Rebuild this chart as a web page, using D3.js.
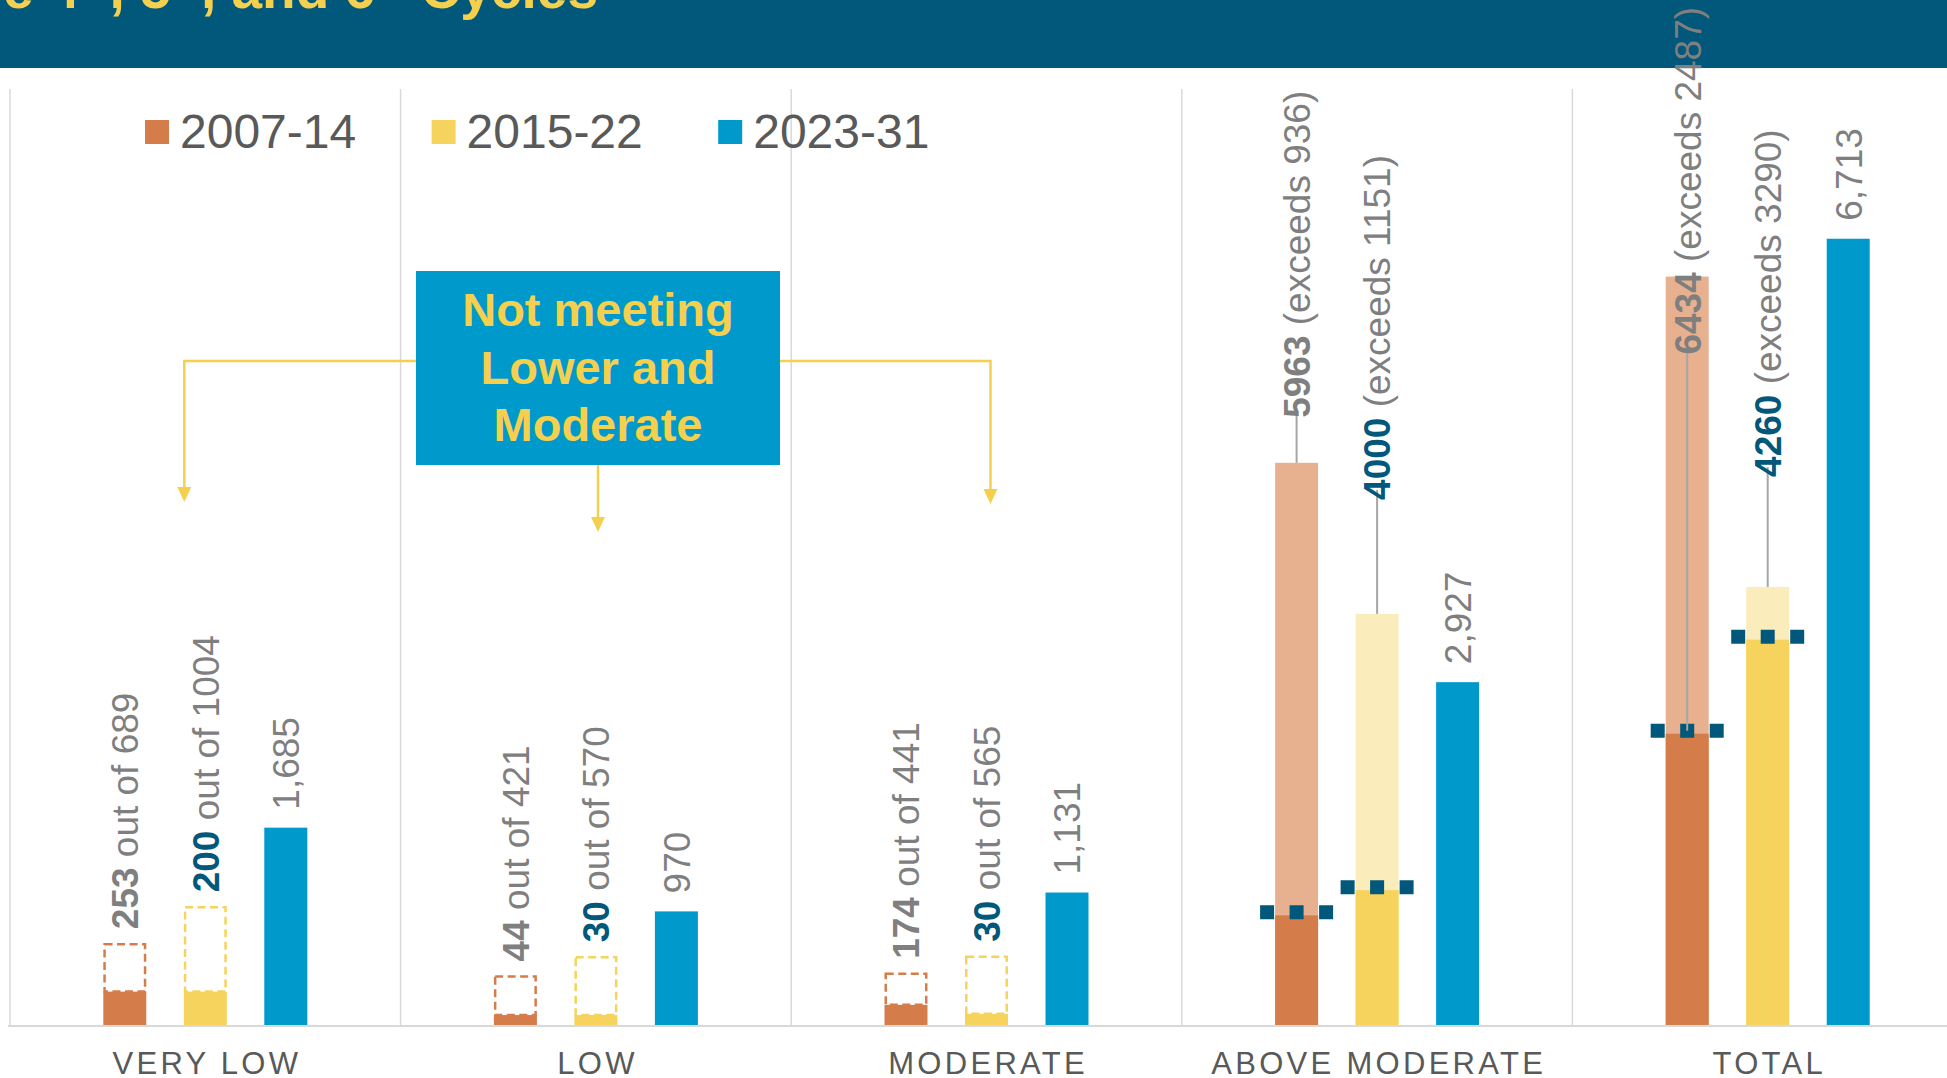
<!DOCTYPE html>
<html>
<head>
<meta charset="utf-8">
<script src="https://d3js.org/d3.v7.min.js"></script>
<style>
body { margin: 0; background: #fff; overflow: hidden; }
svg { display: block; font-family: "Liberation Sans", Arial, sans-serif; }
text { white-space: pre; }
</style>
</head>
<body>
<svg id="chart" width="1947" height="1078"></svg>
<script>
// income categories and RHNA cycles
const categories = ["VERY LOW", "LOW", "MODERATE", "ABOVE MODERATE", "TOTAL"];
const cycles = ["2007-14", "2015-22", "2023-31"];

// 2007-14 cycle
const solid0714 = [285, 85, 172, 936, 2487];
const outline0714 = [690, 415, 437, null, null];
const over0714 = [null, null, null, 4800, 6390];
const goal0714 = [null, null, null, 936, 2487];

// 2015-22 cycle
const solid1522 = [285, 85, 95, 1151, 3290];
const outline1522 = [1005, 578, 583, null, null];
const over1522 = [null, null, null, 3510, 3740];
const goal1522 = [null, null, null, 1151, 3290];

// 2023-31 cycle
const rhna2331 = [1685, 970, 1131, 2927, 6713];

// label texts
const bold0714 = ["253", "44", "174", "5963", "6434"];
const rest0714 = [" out of 689", " out of 421", " out of 441", " (exceeds 936)", " (exceeds 2487)"];
const bold1522 = ["200", "30", "30", "4000", "4260"];
const rest1522 = [" out of 1004", " out of 570", " out of 565", " (exceeds 1151)", " (exceeds 3290)"];
const label2331 = ["1,685", "970", "1,131", "2,927", "6,713"];

const W = 1947, H = 1078;
const baseY = 1025, topY = 88;

const fillCol = { "2007-14": "#D57D4A", "2015-22": "#F6D35C", "2023-31": "#0099CC" };
const lightCol = { "2007-14": "#E7B190", "2015-22": "#FAECBB" };
const darkBlue = "#01587A";
const labelGray = "#7F7F7F";
const noteYellow = "#F5D04E";

const svg = d3.select("#chart");

const x0 = d3.scaleBand()
    .domain(categories)
    .range([10, 10 + 390.6 * categories.length]);

const x1 = d3.scaleBand()
    .domain(cycles)
    .range([-120.75, 120.75])
    .paddingInner(0.466)
    .paddingOuter(0.233);

const y = d3.scaleLinear().domain([0, 8000]).range([baseY, topY]);

function barX(cat, cyc) {
    return x0(cat) + x0.bandwidth() / 2 + x1(cyc);
}
function barC(cat, cyc) {
    return barX(cat, cyc) + x1.bandwidth() / 2;
}

// header band
svg.append("rect").attr("x", 0).attr("y", 0).attr("width", W).attr("height", 68).attr("fill", darkBlue);

var title = svg.append("text")
    .attr("x", 598).attr("y", 8)
    .attr("text-anchor", "end")
    .attr("font-size", 55).attr("font-weight", "bold")
    .attr("fill", noteYellow);
title.append("tspan").text("Share of RHNA Met in the 4");
title.append("tspan").attr("baseline-shift", "super").attr("font-size", 32).text("th");
title.append("tspan").text(", 5");
title.append("tspan").attr("baseline-shift", "super").attr("font-size", 32).text("th");
title.append("tspan").text(", and 6");
title.append("tspan").attr("baseline-shift", "super").attr("font-size", 32).text("th");
title.append("tspan").text(" Cycles");

// separators between categories
svg.selectAll("line.sep")
    .data(categories)
    .enter()
    .append("line")
    .attr("class", "sep")
    .attr("x1", d => x0(d)).attr("x2", d => x0(d))
    .attr("y1", 89).attr("y2", baseY)
    .attr("stroke", "#D9D9D9").attr("stroke-width", 1.5);

// baseline
svg.append("line")
    .attr("x1", 8).attr("x2", W)
    .attr("y1", baseY + 1).attr("y2", baseY + 1)
    .attr("stroke", "#D9D9D9").attr("stroke-width", 2);

// category labels
svg.selectAll("text.cat")
    .data(categories)
    .enter()
    .append("text")
    .attr("class", "cat")
    .attr("x", d => x0(d) + x0.bandwidth() / 2 + 1.6)
    .attr("y", 1074)
    .attr("text-anchor", "middle")
    .attr("font-size", 31)
    .attr("letter-spacing", 3.3)
    .attr("fill", "#595959")
    .text(d => d);

// legend
var legend = svg.selectAll("g.legend")
    .data(cycles)
    .enter()
    .append("g")
    .attr("class", "legend")
    .attr("transform", (d, i) => "translate(" + (145 + i * 286.6) + ",0)");
legend.append("rect")
    .attr("x", 0).attr("y", 120).attr("width", 24).attr("height", 24)
    .attr("fill", d => fillCol[d]);
legend.append("text")
    .attr("x", 35).attr("y", 148)
    .attr("font-size", 48)
    .attr("fill", "#595959")
    .text(d => d);

// annotation box with arrows
const boxL = 416, boxR = 780, boxT = 271, boxB = 465, armY = 361;
const boxMid = (boxL + boxR) / 2;
const arrowL = x0("VERY LOW") + x0.bandwidth() / 2 - 21;
const arrowM = boxMid;
const arrowR = x0("MODERATE") + x0.bandwidth() / 2 + 4;

var note = svg.append("g");
function arrowPath(x, yTip) {
    return "M" + (x - 7) + "," + (yTip - 15) + "L" + (x + 7) + "," + (yTip - 15) + "L" + x + "," + yTip + "Z";
}
note.append("path")
    .attr("d", "M" + boxL + "," + armY + "H" + arrowL + "V" + 488)
    .attr("fill", "none").attr("stroke", noteYellow).attr("stroke-width", 2.5);
note.append("path").attr("d", arrowPath(arrowL, 502)).attr("fill", noteYellow);
note.append("path")
    .attr("d", "M" + boxR + "," + armY + "H" + arrowR + "V" + 490)
    .attr("fill", "none").attr("stroke", noteYellow).attr("stroke-width", 2.5);
note.append("path").attr("d", arrowPath(arrowR, 504)).attr("fill", noteYellow);
note.append("path")
    .attr("d", "M" + arrowM + "," + boxB + "V" + 518)
    .attr("fill", "none").attr("stroke", noteYellow).attr("stroke-width", 2.5);
note.append("path").attr("d", arrowPath(arrowM, 532)).attr("fill", noteYellow);

note.append("rect")
    .attr("x", boxL).attr("y", boxT)
    .attr("width", boxR - boxL).attr("height", boxB - boxT)
    .attr("fill", "#0099CC");
["Not meeting", "Lower and", "Moderate"].forEach(function (line, i) {
    note.append("text")
        .attr("x", boxMid).attr("y", 326 + i * 57.5)
        .attr("text-anchor", "middle")
        .attr("font-size", 47).attr("font-weight", "bold")
        .attr("fill", noteYellow)
        .text(line);
});

// build rows for the two older cycles
function rows(cyc, solid, outline, over, goal, bold, rest, boldCol) {
    return categories.map(function (cat, i) {
        return {
            cat: cat, cyc: cyc, solid: solid[i], outline: outline[i],
            over: over[i], goal: goal[i], bold: bold[i], rest: rest[i], boldCol: boldCol
        };
    });
}
var older = rows("2007-14", solid0714, outline0714, over0714, goal0714, bold0714, rest0714, labelGray)
    .concat(rows("2015-22", solid1522, outline1522, over1522, goal1522, bold1522, rest1522, darkBlue));
var newest = categories.map((cat, i) => ({ cat: cat, cyc: "2023-31", value: rhna2331[i], label: label2331[i] }));

const bw = x1.bandwidth();

// light bars (permits above goal)
svg.selectAll("rect.over")
    .data(older.filter(d => d.over != null))
    .enter()
    .append("rect")
    .attr("class", "over")
    .attr("x", d => barX(d.cat, d.cyc))
    .attr("y", d => y(d.over))
    .attr("width", bw)
    .attr("height", d => y(0) - y(d.over))
    .attr("fill", d => lightCol[d.cyc]);

// dashed outlines (goal not met)
svg.selectAll("rect.outline")
    .data(older.filter(d => d.outline != null))
    .enter()
    .append("rect")
    .attr("class", "outline")
    .attr("x", d => barX(d.cat, d.cyc) + 1.25)
    .attr("y", d => y(d.outline))
    .attr("width", bw - 2.5)
    .attr("height", d => y(d.solid) - y(d.outline))
    .attr("fill", "none")
    .attr("stroke", d => fillCol[d.cyc])
    .attr("stroke-width", 2.5)
    .attr("stroke-dasharray", "8 4.5");

// solid bars
svg.selectAll("rect.solid")
    .data(older)
    .enter()
    .append("rect")
    .attr("class", "solid")
    .attr("x", d => barX(d.cat, d.cyc))
    .attr("y", d => y(d.solid))
    .attr("width", bw)
    .attr("height", d => y(0) - y(d.solid))
    .attr("fill", d => fillCol[d.cyc]);

svg.selectAll("rect.newest")
    .data(newest)
    .enter()
    .append("rect")
    .attr("class", "newest")
    .attr("x", d => barX(d.cat, d.cyc))
    .attr("y", d => y(d.value))
    .attr("width", bw)
    .attr("height", d => y(0) - y(d.value))
    .attr("fill", fillCol["2023-31"]);

// goal markers
svg.selectAll("line.goal")
    .data(older.filter(d => d.goal != null))
    .enter()
    .append("line")
    .attr("class", "goal")
    .attr("x1", d => barC(d.cat, d.cyc) - 36.5)
    .attr("x2", d => barC(d.cat, d.cyc) + 36.5)
    .attr("y1", d => y(d.goal) - 3).attr("y2", d => y(d.goal) - 3)
    .attr("stroke", darkBlue)
    .attr("stroke-width", 14)
    .attr("stroke-dasharray", "14 15.5");

// label placement: pixels above the top of the light bar (negative: below, leader from goal)
const leaderLift = {
    "ABOVE MODERATE|2007-14": 45,
    "ABOVE MODERATE|2015-22": 114,
    "TOTAL|2007-14": -78,
    "TOTAL|2015-22": 110
};
const labelGap = 15;

older.forEach(function (d) {
    var key = d.cat + "|" + d.cyc;
    var cx = barC(d.cat, d.cyc);
    var bottom;
    if (leaderLift[key] != null) {
        var lift = leaderLift[key];
        var topOfBar = y(d.over);
        bottom = topOfBar - lift;
        var from = lift < 0 ? y(d.goal) - 3 : topOfBar;
        svg.append("line")
            .attr("x1", cx).attr("x2", cx)
            .attr("y1", from).attr("y2", bottom - 10)
            .attr("stroke", "#A6A6A6").attr("stroke-width", 2);
    } else {
        bottom = y(d.outline) - labelGap;
    }
    var t = svg.append("text")
        .attr("transform", "translate(" + cx + "," + bottom + ") rotate(-90)")
        .attr("dy", "0.36em")
        .attr("font-size", 37)
        .attr("fill", labelGray);
    t.append("tspan").attr("font-weight", "bold").attr("fill", d.boldCol).text(d.bold);
    t.append("tspan").text(d.rest);
});

svg.selectAll("text.newest")
    .data(newest)
    .enter()
    .append("text")
    .attr("class", "newest")
    .attr("transform", d => "translate(" + barC(d.cat, d.cyc) + "," + (y(d.value) - labelGap - 3) + ") rotate(-90)")
    .attr("dy", "0.36em")
    .attr("font-size", 37)
    .attr("fill", labelGray)
    .text(d => d.label);
</script>
</body>
</html>
